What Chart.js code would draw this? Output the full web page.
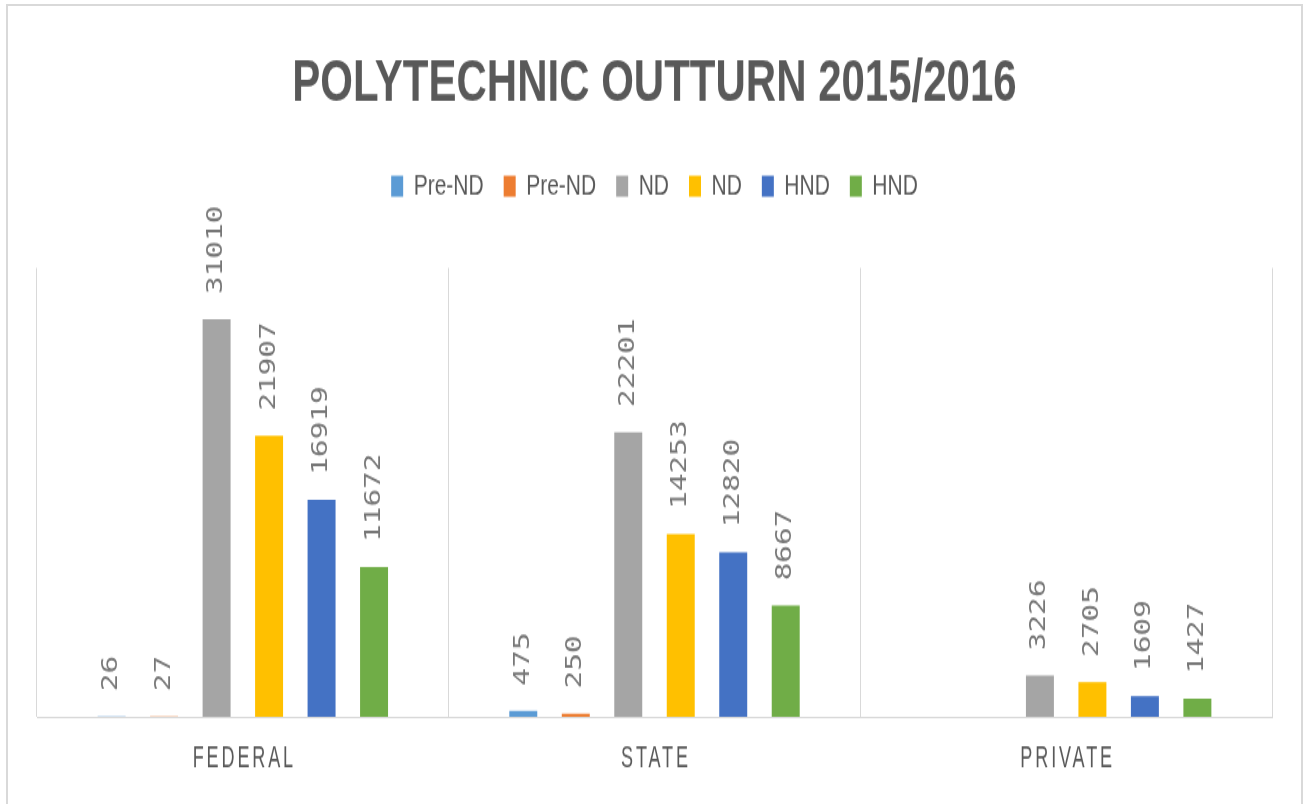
<!DOCTYPE html>
<html>
<head>
<meta charset="utf-8">
<script src="https://cdn.jsdelivr.net/npm/chart.js@4.4.0/dist/chart.umd.min.js"></script>
<style>
  html, body { margin: 0; padding: 0; background: #fff; overflow: hidden; }
  #frame { position: absolute; left: 6px; top: 4px; width: 1293px; height: 830px; border: 2px solid #d9d9d9; border-bottom: none; }
  #wrap { position: absolute; left: 0; top: 0; width: 1304px; height: 575px; transform: scaleY(1.4); transform-origin: 0 0; }
</style>
</head>
<body>
<div id="frame"></div>
<div id="wrap"><canvas id="chart" width="1304" height="575"></canvas></div>
<script>
// data
const categories = ["FEDERAL", "STATE", "PRIVATE"];
const seriesNames = ["Pre-ND", "Pre-ND", "ND", "ND", "HND", "HND"];
const preNdA = [26, 475, null];
const preNdB = [27, 250, null];
const ndA = [31010, 22201, 3226];
const ndB = [21907, 14253, 2705];
const hndA = [16919, 12820, 1609];
const hndB = [11672, 8667, 1427];
const colors = ["#5B9BD5", "#ED7D31", "#A5A5A5", "#FFC000", "#4472C4", "#70AD47"];

const seriesValues = [preNdA, preNdB, ndA, ndB, hndA, hndB];

// value labels, rotated, above each bar
const barLabels = {
  id: "barLabels",
  afterDatasetsDraw(chart) {
    const ctx = chart.ctx;
    ctx.save();
    ctx.font = '21px "DejaVu Sans Mono", monospace';
    ctx.fillStyle = "#777777";
    ctx.textAlign = "left";
    ctx.textBaseline = "middle";
    chart.data.datasets.forEach((ds, i) => {
      chart.getDatasetMeta(i).data.forEach((bar, j) => {
        const v = ds.data[j];
        if (v == null) return;
        ctx.save();
        ctx.translate(bar.x, bar.y - 18);
        ctx.rotate(-Math.PI / 2);
        ctx.fillText(String(v), 0, 0);
        ctx.restore();
      });
    });
    ctx.restore();
  }
};

// spaced, narrow category names under the axis
const categoryNames = {
  id: "categoryNames",
  afterDraw(chart) {
    const ctx = chart.ctx;
    const xScale = chart.scales.x;
    ctx.save();
    ctx.font = '22px "Liberation Sans", sans-serif';
    ctx.letterSpacing = "3.5px";
    ctx.fillStyle = "#595959";
    ctx.textAlign = "center";
    ctx.textBaseline = "middle";
    categories.forEach((c, i) => {
      ctx.save();
      ctx.translate(xScale.getPixelForValue(i) + 1.5, 542);
      ctx.scale(0.82, 1);
      ctx.fillText(c, 0, 0);
      ctx.restore();
    });
    ctx.restore();
  }
};

// extra room between legend and plot
const legendGap = {
  id: "legendGap",
  beforeInit(chart) {
    const fit = chart.legend.fit;
    chart.legend.fit = function () {
      fit.bind(this)();
      this.height += 38;
    };
  }
};

new Chart(document.getElementById("chart"), {
  type: "bar",
  data: {
    labels: categories,
    datasets: seriesValues.map((vals, i) => ({
      label: seriesNames[i],
      data: vals,
      backgroundColor: colors[i],
      categoryPercentage: 0.765,
      barPercentage: 0.533
    }))
  },
  options: {
    responsive: false,
    animation: false,
    layout: { padding: { left: 37, right: 32, top: 0, bottom: 63 } },
    scales: {
      x: {
        grid: { color: "#d9d9d9", drawTicks: false, offset: true },
        border: { color: "#d9d9d9" },
        ticks: { display: false }
      },
      y: { display: false, min: 0, max: 35000 }
    },
    plugins: {
      title: {
        display: true,
        text: "POLYTECHNIC OUTTURN 2015/2016",
        color: "#595959",
        font: { family: '"Liberation Sans", Arial, sans-serif', size: 42, weight: "bold" },
        padding: { top: 35, bottom: 17 }
      },
      legend: {
        position: "top",
        labels: {
          color: "#595959",
          boxWidth: 12,
          boxHeight: 15,
          padding: 20,
          font: { family: '"Liberation Sans", Arial, sans-serif', size: 21 }
        }
      },
      tooltip: { enabled: false }
    }
  },
  plugins: [legendGap, barLabels, categoryNames]
});
</script>
</body>
</html>
